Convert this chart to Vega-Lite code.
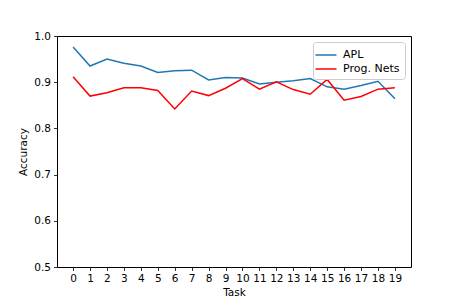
{
  "$schema": "https://vega.github.io/schema/vega-lite/v6.json",
  "width": 354,
  "height": 231,
  "autosize": {"type": "none"},
  "padding": {"left": 57, "top": 36, "right": 46, "bottom": 38},
  "background": "white",
  "config": {
    "view": {"stroke": "black", "strokeWidth": 1},
    "font": "DejaVu Sans",
    "axis": {
      "grid": false,
      "domain": false,
      "tickColor": "black",
      "tickSize": 3.5,
      "tickWidth": 0.8,
      "labelColor": "black",
      "labelFont": "DejaVu Sans",
      "labelFontSize": 10.5,
      "titleFont": "DejaVu Sans",
      "titleFontSize": 10.5,
      "titleFontWeight": "normal",
      "titleColor": "black",
      "labelPadding": 3
    },
    "legend": {
      "labelFont": "DejaVu Sans",
      "labelFontSize": 11,
      "labelColor": "black"
    }
  },
  "data": {
    "values": [
      {"task": 0, "method": "APL", "acc": 0.976},
      {"task": 1, "method": "APL", "acc": 0.935},
      {"task": 2, "method": "APL", "acc": 0.950},
      {"task": 3, "method": "APL", "acc": 0.941},
      {"task": 4, "method": "APL", "acc": 0.935},
      {"task": 5, "method": "APL", "acc": 0.921},
      {"task": 6, "method": "APL", "acc": 0.925},
      {"task": 7, "method": "APL", "acc": 0.926},
      {"task": 8, "method": "APL", "acc": 0.905},
      {"task": 9, "method": "APL", "acc": 0.910},
      {"task": 10, "method": "APL", "acc": 0.909},
      {"task": 11, "method": "APL", "acc": 0.896},
      {"task": 12, "method": "APL", "acc": 0.900},
      {"task": 13, "method": "APL", "acc": 0.903},
      {"task": 14, "method": "APL", "acc": 0.908},
      {"task": 15, "method": "APL", "acc": 0.890},
      {"task": 16, "method": "APL", "acc": 0.885},
      {"task": 17, "method": "APL", "acc": 0.893},
      {"task": 18, "method": "APL", "acc": 0.902},
      {"task": 19, "method": "APL", "acc": 0.864},
      {"task": 0, "method": "Prog. Nets", "acc": 0.912},
      {"task": 1, "method": "Prog. Nets", "acc": 0.870},
      {"task": 2, "method": "Prog. Nets", "acc": 0.877},
      {"task": 3, "method": "Prog. Nets", "acc": 0.888},
      {"task": 4, "method": "Prog. Nets", "acc": 0.888},
      {"task": 5, "method": "Prog. Nets", "acc": 0.882},
      {"task": 6, "method": "Prog. Nets", "acc": 0.842},
      {"task": 7, "method": "Prog. Nets", "acc": 0.881},
      {"task": 8, "method": "Prog. Nets", "acc": 0.871},
      {"task": 9, "method": "Prog. Nets", "acc": 0.887},
      {"task": 10, "method": "Prog. Nets", "acc": 0.908},
      {"task": 11, "method": "Prog. Nets", "acc": 0.885},
      {"task": 12, "method": "Prog. Nets", "acc": 0.901},
      {"task": 13, "method": "Prog. Nets", "acc": 0.884},
      {"task": 14, "method": "Prog. Nets", "acc": 0.874},
      {"task": 15, "method": "Prog. Nets", "acc": 0.906},
      {"task": 16, "method": "Prog. Nets", "acc": 0.861},
      {"task": 17, "method": "Prog. Nets", "acc": 0.869},
      {"task": 18, "method": "Prog. Nets", "acc": 0.885},
      {"task": 19, "method": "Prog. Nets", "acc": 0.888}
    ]
  },
  "mark": {"type": "line", "strokeWidth": 1.5},
  "encoding": {
    "x": {
      "field": "task",
      "type": "quantitative",
      "scale": {"domain": [-0.95, 19.95], "nice": false, "zero": false},
      "axis": {
        "title": "Task",
        "values": [0,1,2,3,4,5,6,7,8,9,10,11,12,13,14,15,16,17,18,19],
        "format": "d",
        "labelFlush": false,
        "labelOverlap": false,
        "titlePadding": 3
      }
    },
    "y": {
      "field": "acc",
      "type": "quantitative",
      "scale": {"domain": [0.5, 1.0], "nice": false, "zero": false},
      "axis": {
        "title": "Accuracy",
        "values": [0.5, 0.6, 0.7, 0.8, 0.9, 1.0],
        "format": ".1f",
        "labelFlush": false,
        "titlePadding": 5
      }
    },
    "color": {
      "field": "method",
      "type": "nominal",
      "scale": {"domain": ["APL", "Prog. Nets"], "range": ["#1f77b4", "#ff0000"]},
      "legend": {
        "title": null,
        "orient": "none",
        "legendX": 256,
        "legendY": 6,
        "symbolType": "M-1.5,0H1.5",
        "symbolSize": 196,
        "symbolStrokeWidth": 1.5,
        "padding": 5,
        "rowPadding": 1,
        "labelOffset": 9,
        "strokeColor": "#cccccc",
        "fillColor": "white",
        "cornerRadius": 3
      }
    }
  }
}
